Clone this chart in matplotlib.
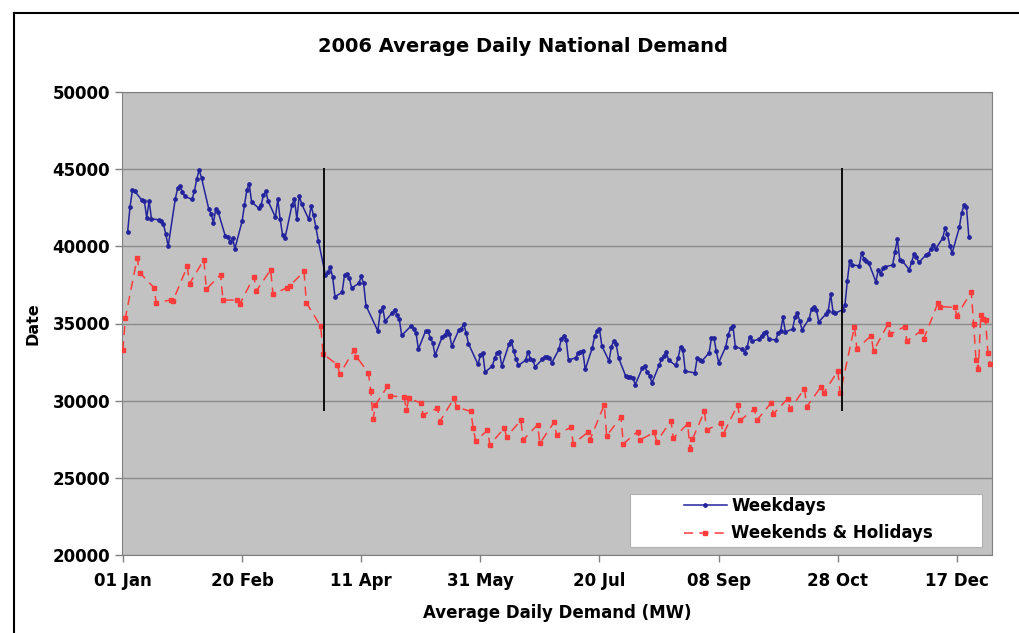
import matplotlib
matplotlib.use('Agg')
import matplotlib.pyplot as plt
import matplotlib.dates as mdates
import pandas as pd
from matplotlib.lines import Line2D
from matplotlib.patches import Rectangle

# weekday demand (MW), Jan 3 .. Dec 22, one value per working day
weekdays_mw = [
    40960, 42570, 43630, 43570,
    42980, 42940, 41850, 42940, 41780,
    41720, 41650, 41450, 40800, 40000,
    43090, 43780, 43910, 43520, 43240,
    43040, 43570, 44350, 44940, 44440,
    42440, 42110, 41520, 42440, 42220,
    40650, 40590, 40300, 40550, 39850,
    41610, 42650, 43630, 44070, 42870,
    42480, 42650, 43350, 43560, 42910,
    41890, 43040, 41740, 40740, 40520,
    42700, 43040, 41780, 43260, 42760,
    41740, 42610, 42000, 41240, 40370,
    38130, 38350, 38630, 38040, 36740,
    37020, 38150, 38220, 37940, 37300,
    37600, 38050, 37620, 36160,
    34510, 35790, 36050, 35150,
    35690, 35900, 35580, 35260, 34230,
    34850, 34660, 34400, 33330,
    34510, 34510, 34080, 33760, 32940,
    34140, 34230, 34500, 34350, 33540,
    34590, 34670, 34960, 34410, 33700,
    32350, 32940, 33110, 31850,
    32240, 32740, 33110, 33150, 32240,
    33650, 33870, 33220, 32700, 32280,
    32630, 33150, 32720, 32630, 32200,
    32670, 32850, 32830, 32780, 32460,
    33330, 34020, 34200, 33940, 32630,
    32780, 33070, 33150, 33220, 32020,
    33440, 34200, 34520, 34630, 33540,
    32570, 33500, 33870, 33650, 32780,
    31590, 31540, 31540, 31480, 31040,
    32130, 32240, 31850, 31630, 31150,
    32280, 32670, 32900, 33150, 32630,
    32280, 32780, 33500, 33280, 31910,
    31800, 32780, 32630, 32570,
    33100, 34090, 34090, 33220, 32460,
    33500, 34260, 34700, 34850, 33500,
    33330, 33110, 33500, 34150, 33870,
    33980, 34200, 34370, 34460, 33980,
    33940, 34410, 34520, 35390, 34460,
    34630, 35390, 35670, 35170, 34590,
    35320, 35970, 36040, 35890, 35110,
    35610, 35820, 36900, 35760, 35670,
    35890, 36190, 37770, 39070, 38790,
    38740, 39570, 39180, 39070, 38920,
    37700, 38490, 38200, 38570, 38680,
    38790, 39650, 40480, 39130, 39070,
    38490, 39000, 39500, 39290, 38960,
    39440, 39500, 39830, 40090, 39830,
    40520, 41170, 40800, 40040, 39570,
    41230, 42170, 42690, 42530, 40580,
]

# weekends, bank holidays and the Christmas week
weekends_mw = [
    33260, 35330, 39240, 38300, 37330, 36350, 36520, 36460, 38700, 37590,
    39130, 37220, 38170, 36520, 36520, 36240, 38040, 37110,
    38480, 36890, 37330, 37440, 38370, 36350, 34820, 33030,
    32330, 31720, 33280, 32850, 31820, 30640, 28820, 29720, 30920, 30320, 30220, 29420,
    30150, 29850, 29080, 29510, 28650, 30170, 29590, 29300, 28220, 27410,
    28070, 27130, 28220, 27670, 28720, 27460, 28440, 27240,
    28620, 27780, 28280, 27200, 27940, 27460, 29740, 27720, 28940, 27200,
    28000, 27460, 27940, 27350, 28690, 27570, 28500, 26850, 27500,
    29300, 28110, 28540, 27850, 29740, 28720, 29460, 28720, 29850,
    29150, 30130, 29440, 30780, 29610, 30910, 30470, 31930, 30470,
    34800, 33380, 34200, 33220, 34950, 34300, 34800, 33870,
    34520, 33980, 36320, 36100, 36040, 35500,
    37060, 34960, 32640, 32030, 35540, 35320, 35240, 33070, 32360,
]

holidays = ['2006-01-02', '2006-04-14', '2006-04-17', '2006-05-01', '2006-05-29',
            '2006-08-28', '2006-12-25', '2006-12-26', '2006-12-27', '2006-12-28',
            '2006-12-29']
clock_changes = ['2006-03-26 08:00', '2006-10-29 16:00']

days = pd.date_range('2006-01-01', '2006-12-31', freq='D')
is_wd = (days.dayofweek < 5) & ~days.isin(pd.to_datetime(holidays))
wd_dates = days[is_wd]
we_dates = days[~is_wd]

blue = '#23239c'
red = '#ff3c3c'

fig = plt.figure(figsize=(10.19, 6.33), dpi=100)
ax = fig.add_axes([122/1019, 1-555/633, 870/1019, 463/633])
ax.set_facecolor('#c2c2c2')

ax.plot(wd_dates, weekdays_mw, color=blue, lw=1.1, marker='o', ms=2.4,
        label='Weekdays', zorder=4)
ax.plot(we_dates, weekends_mw, color=red, lw=1.1, dashes=(6, 4), marker='s', ms=3,
        label='Weekends & Holidays', zorder=4)

ax.vlines(pd.to_datetime(clock_changes), 29300, 45100, color='black', lw=1.3, zorder=5)

ax.set_ylim(20000, 50000)
ax.set_yticks(range(20000, 50001, 5000))
ax.set_xlim(pd.Timestamp('2006-01-01') - pd.Timedelta(hours=9),
            pd.Timestamp('2006-12-31') + pd.Timedelta(hours=17))
ax.set_xticks(pd.date_range('2006-01-01', periods=8, freq='50D'))
ax.xaxis.set_major_formatter(mdates.DateFormatter('%d %b'))
ax.grid(axis='y', color='#8c8c8c', lw=1)
ax.set_axisbelow(True)
for s in ax.spines.values():
    s.set_color('#808080')
ax.tick_params(axis='both', colors='#808080', labelcolor='black', length=5, width=1,
               labelsize=12)
ax.tick_params(axis='x', pad=7)
for lab in ax.get_xticklabels() + ax.get_yticklabels():
    lab.set_fontweight('bold')

ax.set_ylabel('Date', fontsize=11.5, fontweight='bold', labelpad=9)
ax.set_xlabel('Average Daily Demand (MW)', fontsize=12, fontweight='bold', labelpad=10)
fig.text(523/1019, 1-47/633, '2006 Average Daily National Demand', ha='center',
         va='center', fontsize=14, fontweight='bold')

# legend box
ax.add_patch(Rectangle((0.584, 0.017), 0.405, 0.115, transform=ax.transAxes,
                       facecolor='white', edgecolor='#b0b0b0', lw=0.8, zorder=6))
leg = ax.legend(loc='center left', bbox_to_anchor=(0.636, 0.076), frameon=False,
                borderpad=0, handlelength=2.6, handletextpad=0.25, labelspacing=0.55,
                prop={'size': 12, 'weight': 'bold'})
leg.set_zorder(7)

# outer frame of the chart
fig.add_artist(Line2D([14/1019, 14/1019], [0, 1-13/633], color='black', lw=1.5))
fig.add_artist(Line2D([14/1019, 1], [1-13/633, 1-13/633], color='black', lw=1.5))

fig.savefig('out.png', dpi=100, facecolor='white')
